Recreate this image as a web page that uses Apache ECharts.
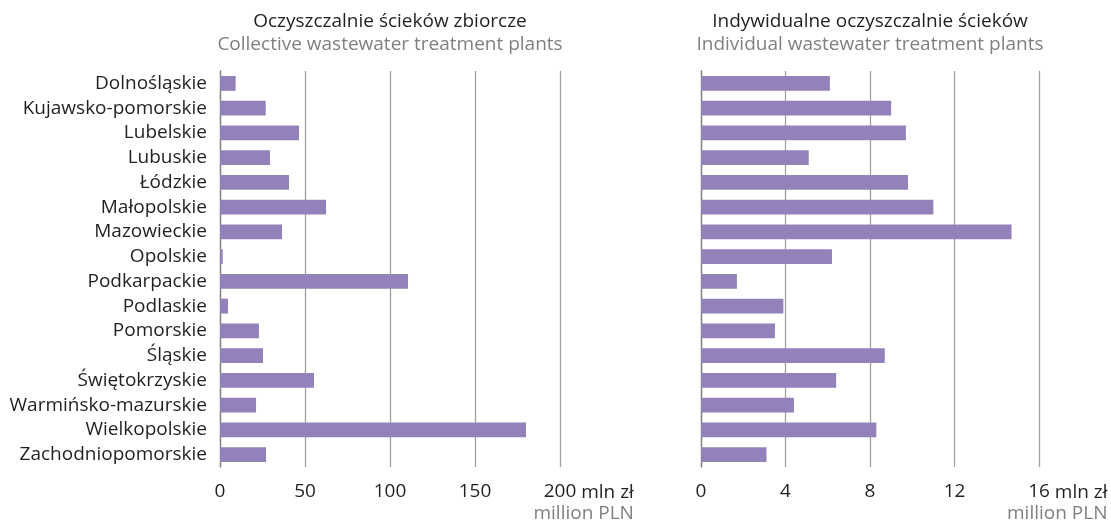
<!DOCTYPE html>
<html>
<head>
<meta charset="utf-8">
<script src="https://cdn.jsdelivr.net/npm/echarts@6/dist/echarts.min.js"></script>
<style>
  html, body { margin: 0; padding: 0; background: #fff; }
  #chart { width: 1111px; height: 521px; }
</style>
</head>
<body>
<div id="chart"></div>
<script>
// Voivodeships, top to bottom
const regions = [
  'Dolnośląskie', 'Kujawsko-pomorskie', 'Lubelskie', 'Lubuskie', 'Łódzkie',
  'Małopolskie', 'Mazowieckie', 'Opolskie', 'Podkarpackie', 'Podlaskie',
  'Pomorskie', 'Śląskie', 'Świętokrzyskie', 'Warmińsko-mazurskie',
  'Wielkopolskie', 'Zachodniopomorskie'
];

// Collective wastewater treatment plants, million PLN
const collective = [9.2, 26.9, 46.5, 29.4, 40.6, 62.4, 36.5, 1.6, 110.6, 4.7, 22.9, 25.3, 55.3, 21.2, 180.0, 27.1];

// Individual wastewater treatment plants, million PLN
const individual = [6.1, 9.0, 9.7, 5.1, 9.8, 11.0, 14.7, 6.2, 1.7, 3.9, 3.5, 8.7, 6.4, 4.4, 8.3, 3.1];

const leftTicks = { min: 0, max: 200, interval: 50 };
const rightTicks = { min: 0, max: 16, interval: 4 };

const titles = {
  leftPl: 'Oczyszczalnie ścieków zbiorcze',
  leftEn: 'Collective wastewater treatment plants',
  rightPl: 'Indywidualne oczyszczalnie ścieków',
  rightEn: 'Individual wastewater treatment plants',
  unitPl: 'mln zł',
  unitEn: 'million PLN'
};

const FONT = 'Open Sans';
const SIZE = 19;
const DARK = '#231f20';
const GREY = '#808080';
const BAR = '#9382ba';

const chart = echarts.init(document.getElementById('chart'), null, { renderer: 'canvas' });

const gridTop = 71, gridHeight = 396;

function valueAxis(gridIndex, ticks) {
  return {
    type: 'value', gridIndex,
    min: ticks.min, max: ticks.max, interval: ticks.interval,
    axisLine: { show: false }, axisTick: { show: false },
    splitLine: { show: true, lineStyle: { color: '#a0a0a0', width: 1.3 } },
    axisLabel: { color: DARK, fontFamily: FONT, fontSize: SIZE, margin: 15 }
  };
}

function catAxis(gridIndex, showLabels) {
  return {
    type: 'category', gridIndex, data: regions, inverse: true,
    axisLine: { show: true, lineStyle: { color: '#7f7f7f', width: 1.3 } },
    axisTick: { show: false },
    axisLabel: { show: showLabels, color: DARK, fontFamily: FONT, fontSize: SIZE, margin: 13 }
  };
}

function bars(idx, data) {
  return {
    type: 'bar', xAxisIndex: idx, yAxisIndex: idx, data,
    barCategoryGap: '40%', itemStyle: { color: BAR }, silent: true
  };
}

chart.setOption({
  animation: false,
  grid: [
    { left: 220, width: 340, top: gridTop, height: gridHeight },
    { left: 701, width: 338, top: gridTop, height: gridHeight }
  ],
  xAxis: [valueAxis(0, leftTicks), valueAxis(1, rightTicks)],
  yAxis: [catAxis(0, true), catAxis(1, false)],
  series: [bars(0, collective), bars(1, individual)]
});

// Text width helper for placing the unit next to the last tick label
const measureCtx = document.createElement('canvas').getContext('2d');
function textWidth(text, size) {
  measureCtx.font = size + 'px "' + FONT + '"';
  return measureCtx.measureText(text).width;
}

// Panel headings and unit captions, placed from the axes' own scales
function headingAndUnits() {
  const l0 = chart.convertToPixel({ xAxisIndex: 0 }, leftTicks.min);
  const l1 = chart.convertToPixel({ xAxisIndex: 0 }, leftTicks.max);
  const r0 = chart.convertToPixel({ xAxisIndex: 1 }, rightTicks.min);
  const r1 = chart.convertToPixel({ xAxisIndex: 1 }, rightTicks.max);
  const txt = (x, y, text, color, align) => ({
    type: 'text', x, y,
    style: { text, fill: color, font: SIZE + 'px "' + FONT + '"', align, verticalAlign: 'middle' }
  });
  const space = textWidth(' ', SIZE);
  const unitW = textWidth(titles.unitPl, SIZE);
  const lStart = l1 + textWidth(String(leftTicks.max), SIZE) / 2 + space;
  const rStart = r1 + textWidth(String(rightTicks.max), SIZE) / 2 + space;
  const labelY = gridTop + gridHeight + 15 + SIZE / 2 + 1;
  chart.setOption({
    graphic: [
      txt((l0 + l1) / 2, 22, titles.leftPl, DARK, 'center'),
      txt((l0 + l1) / 2, 45, titles.leftEn, GREY, 'center'),
      txt((r0 + r1) / 2, 22, titles.rightPl, DARK, 'center'),
      txt((r0 + r1) / 2, 45, titles.rightEn, GREY, 'center'),
      txt(lStart, labelY, titles.unitPl, DARK, 'left'),
      txt(lStart + unitW, labelY + 21, titles.unitEn, GREY, 'right'),
      txt(rStart, labelY, titles.unitPl, DARK, 'left'),
      txt(rStart + unitW, labelY + 21, titles.unitEn, GREY, 'right')
    ]
  });
}
headingAndUnits();
</script>
</body>
</html>
